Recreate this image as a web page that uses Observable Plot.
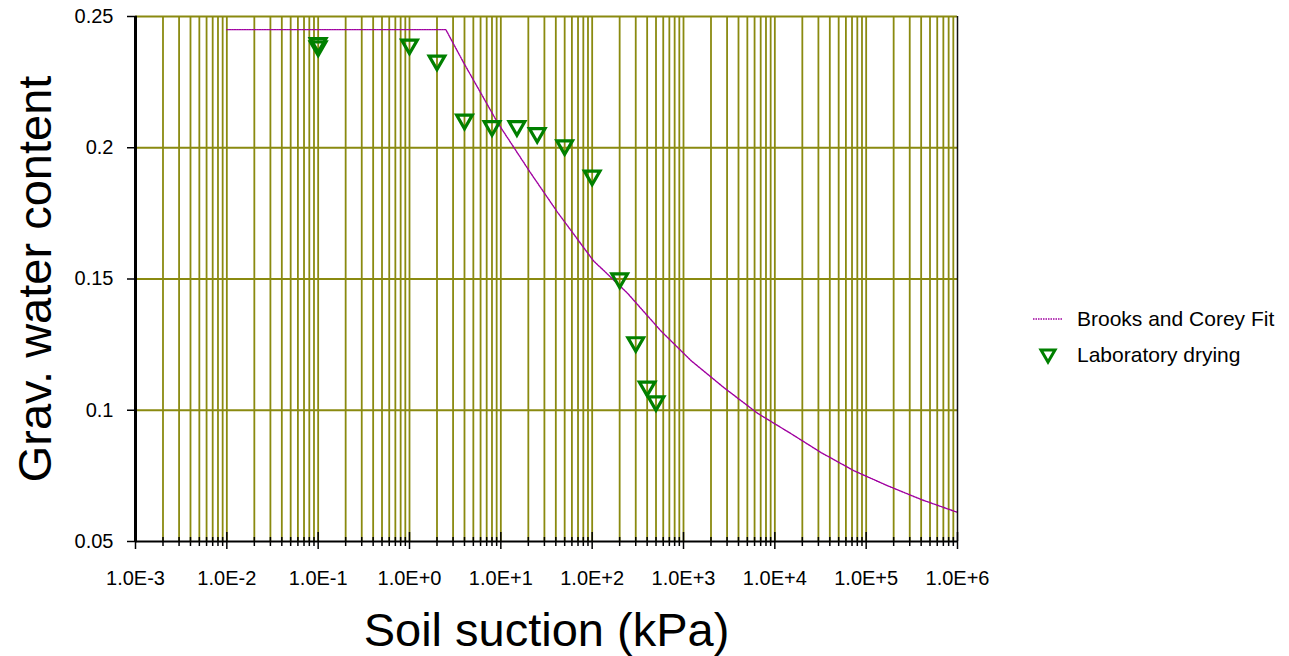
<!DOCTYPE html>
<html><head><meta charset="utf-8">
<script src="https://cdn.jsdelivr.net/npm/d3@7"></script>
<script src="https://cdn.jsdelivr.net/npm/@observablehq/plot@0.6"></script>
<style>
body{margin:0;background:#fff;font-family:"Liberation Sans",Arial,sans-serif;}
#wrap{position:relative;width:1289px;height:656px;overflow:hidden;}
#legend{position:absolute;left:1030px;top:301px;font-size:21px;color:#000;line-height:36px;}
#legend .row{display:flex;align-items:center;height:36px;}
#legend svg{width:40px;height:20px;margin-right:7px;}
</style></head><body>
<div id="wrap"><div id="chart"></div>
<div id="legend">
  <div class="row"><svg viewBox="0 0 40 20"><line x1="3" x2="33" y1="10" y2="10" stroke="#a000a0" stroke-width="1.3" stroke-dasharray="1.5,1"/></svg><span>Brooks and Corey Fit</span></div>
  <div class="row"><svg viewBox="0 0 40 20"><path d="M11,5 L25,5 L18,17 Z" fill="none" stroke="#008000" stroke-width="3" stroke-linejoin="miter"/></svg><span>Laboratory drying</span></div>
</div>
</div>
<script>
// Laboratory drying measurements
const labSuction = [0.1, 0.1, 1, 2, 4, 8, 15, 25, 50, 100, 200, 300, 400, 500];
const labWater   = [0.2399, 0.2386, 0.2393, 0.2332, 0.2107, 0.2082, 0.2082, 0.2056, 0.2009, 0.1894, 0.1502, 0.1259, 0.1090, 0.1034];

// Brooks and Corey fit curve
const fitSuction = [0.01, 2.5, 3.9, 9.2, 21, 42, 103, 245, 560, 1200, 2750, 6500, 15000, 32000, 73000, 170000, 400000, 1000000];
const fitWater   = [0.245, 0.245, 0.2325, 0.2096, 0.1906, 0.1753, 0.1570, 0.1445, 0.1304, 0.1190, 0.1087, 0.0988, 0.0911, 0.0839, 0.0770, 0.0713, 0.0660, 0.0611];

// Axis ticks
const xTickValues = [1e-3, 1e-2, 1e-1, 1e0, 1e1, 1e2, 1e3, 1e4, 1e5, 1e6];
const xTickLabels = ["1.0E-3", "1.0E-2", "1.0E-1", "1.0E+0", "1.0E+1", "1.0E+2", "1.0E+3", "1.0E+4", "1.0E+5", "1.0E+6"];
const yTickValues = [0.05, 0.1, 0.15, 0.2, 0.25];
const yTickLabels = ["0.05", "0.1", "0.15", "0.2", "0.25"];
const minorMultipliers = [2, 3, 4, 5, 6, 7, 8, 9];

const minorTicks = [];
for (const d of xTickValues.slice(0, -1)) for (const m of minorMultipliers) minorTicks.push(d * m);
const gridX = minorTicks.concat(xTickValues.slice(1, -1));

const lab = labSuction.map((s, i) => ({s, w: labWater[i]}));
const fit = fitSuction.map((s, i) => ({s, w: fitWater[i]}));
const xTicks = xTickValues.map((v, i) => ({v, label: xTickLabels[i]}));
const yTicks = yTickValues.map((v, i) => ({v, label: yTickLabels[i]}));

const olive = "#8a8a10";

const chart = Plot.plot({
  width: 1289,
  height: 656,
  marginLeft: 135,
  marginRight: 332,
  marginTop: 16,
  marginBottom: 115,
  style: {fontFamily: "'Liberation Sans', Arial, sans-serif", fontSize: "20px", color: "#000", background: "#fff"},
  x: {type: "log", domain: [1e-3, 1e6], axis: null},
  y: {domain: [0.05, 0.25], axis: null},
  marks: [
    Plot.ruleX(gridX, {stroke: olive, strokeWidth: 1.8}),
    Plot.ruleY(yTickValues.slice(1), {stroke: olive, strokeWidth: 1.8}),
    Plot.line(fit, {x: "s", y: "w", stroke: "#a000a0", strokeWidth: 1.4, strokeDasharray: "1.5,1"}),
    Plot.dot(lab, {x: "s", y: "w", symbol: "triangle", rotate: 180, r: 5.8, stroke: "#008000", strokeWidth: 3.2, fill: "none"}),
    // black frame parts
    Plot.ruleX([1e6], {stroke: "#111", strokeWidth: 1.5}),
    Plot.ruleX([1e-3], {stroke: "#000", strokeWidth: 3}),
    Plot.ruleY([0.05], {stroke: "#000", strokeWidth: 2}),
    // x minor and major tick marks crossing the axis
    Plot.ruleX(minorTicks, {y1: 0.05, y2: 0.05, insetTop: -4, insetBottom: -5, stroke: "#000", strokeWidth: 1.5}),
    Plot.ruleX(xTickValues, {y1: 0.05, y2: 0.05, insetTop: -9, insetBottom: -8, stroke: "#000", strokeWidth: 1.5}),
    // y ticks
    Plot.ruleY(yTickValues, {x1: 1e-3, x2: 1e-3, insetLeft: -8, insetRight: -2, stroke: "#000", strokeWidth: 1.5}),
    // tick labels
    Plot.text(xTicks, {x: "v", text: "label", frameAnchor: "bottom", lineAnchor: "middle", dy: 37, fontSize: 20, textAnchor: "middle", fill: "#000"}),
    Plot.text(yTicks, {y: "v", text: "label", frameAnchor: "left", lineAnchor: "middle", dx: -22, fontSize: 20, textAnchor: "end", fill: "#000"}),
    // axis titles
    Plot.text(["Soil suction (kPa)"], {frameAnchor: "bottom", lineAnchor: "middle", dy: 89, fontSize: 47, textAnchor: "middle", fill: "#000"}),
    Plot.text(["Grav. water content"], {frameAnchor: "left", lineAnchor: "middle", dx: -100, rotate: -90, fontSize: 47, textAnchor: "middle", fill: "#000"})
  ]
});
document.getElementById("chart").appendChild(chart);
</script>
</body></html>
